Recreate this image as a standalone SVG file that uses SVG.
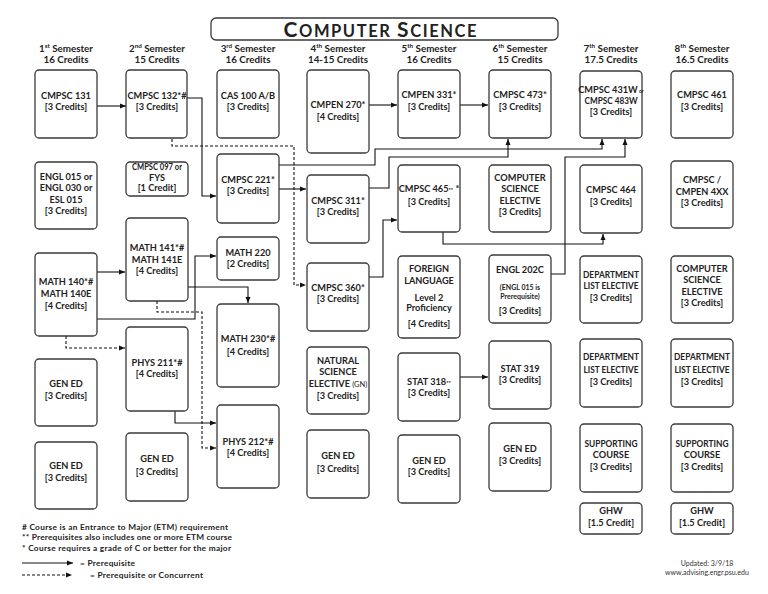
<svg xmlns="http://www.w3.org/2000/svg" width="768" height="594" viewBox="0 0 768 594">
<defs>
<marker id="ah" markerWidth="6" markerHeight="6" refX="6" refY="3" orient="auto" markerUnits="userSpaceOnUse">
<path d="M0,0.5 L6,3 L0,5.5 z" fill="#111"/>
</marker>
<style>
.box{fill:#fff;stroke:#3a3a3a;stroke-width:1.3}
.t{font-family:Lato,"Liberation Sans",sans-serif;font-weight:bold;font-size:9.2px;fill:#222;text-anchor:middle}
.sm{font-size:7px}
.h{font-family:Lato,"Liberation Sans",sans-serif;font-weight:bold;font-size:9.8px;fill:#222;text-anchor:middle}
.lg{font-family:Lato,"Liberation Sans",sans-serif;font-weight:bold;font-size:8.3px;fill:#222}
.up{font-family:Lato,"Liberation Sans",sans-serif;font-size:7px;fill:#333;text-anchor:middle}
.c{fill:none;stroke:#111;stroke-width:1.1;marker-end:url(#ah)}
.d{stroke-dasharray:3 2}
</style>
</defs>
<rect width="768" height="594" fill="#fff"/>

<g id="title">
<rect x="211" y="18" width="347" height="22" rx="5" fill="#fff" stroke="#3a3a3a" stroke-width="1.3"/>
<text x="380" y="37" textLength="193" lengthAdjust="spacing" style="font-family:Lato,'Liberation Sans',sans-serif;font-weight:bold;fill:#222;text-anchor:middle"><tspan font-size="21">C</tspan><tspan font-size="16.5">OMPUTER </tspan><tspan font-size="21">S</tspan><tspan font-size="16.5">CIENCE</tspan></text>
</g>

<g id="headers">
<text class="h" x="66" y="51.5">1<tspan font-size="6.3" dy="-3.5">st</tspan><tspan dy="3.5"> Semester</tspan></text>
<text class="h" x="66" y="62.5">16 Credits</text>
<text class="h" x="157" y="51.5">2<tspan font-size="6.3" dy="-3.5">nd</tspan><tspan dy="3.5"> Semester</tspan></text>
<text class="h" x="157" y="62.5">15 Credits</text>
<text class="h" x="248" y="51.5">3<tspan font-size="6.3" dy="-3.5">rd</tspan><tspan dy="3.5"> Semester</tspan></text>
<text class="h" x="248" y="62.5">16 Credits</text>
<text class="h" x="338" y="51.5">4<tspan font-size="6.3" dy="-3.5">th</tspan><tspan dy="3.5"> Semester</tspan></text>
<text class="h" x="338" y="62.5">14-15 Credits</text>
<text class="h" x="429" y="51.5">5<tspan font-size="6.3" dy="-3.5">th</tspan><tspan dy="3.5"> Semester</tspan></text>
<text class="h" x="429" y="62.5">16 Credits</text>
<text class="h" x="520" y="51.5">6<tspan font-size="6.3" dy="-3.5">th</tspan><tspan dy="3.5"> Semester</tspan></text>
<text class="h" x="520" y="62.5">15 Credits</text>
<text class="h" x="611" y="51.5">7<tspan font-size="6.3" dy="-3.5">th</tspan><tspan dy="3.5"> Semester</tspan></text>
<text class="h" x="611" y="62.5">17.5 Credits</text>
<text class="h" x="702" y="51.5">8<tspan font-size="6.3" dy="-3.5">th</tspan><tspan dy="3.5"> Semester</tspan></text>
<text class="h" x="702" y="62.5">16.5 Credits</text>
</g>

<g id="connectors">
<path class="c" d="M97,106 H126"/>
<path class="c" d="M187,98 H202 V196 H216"/>
<path class="c d" d="M172,139 V146 H294 V285 H306"/>
<path class="c" d="M279,189 H306"/>
<path class="c" d="M279,165 H375 V149 H602 V139"/>
<path class="c" d="M369,188 H389 V157 H508 V139"/>
<path class="c" d="M551,274 H565 V157 H625 V139"/>
<path class="c" d="M443,232 V244 H603 V234"/>
<path class="c" d="M369,277 H383 V220 H397"/>
<path class="c" d="M369,105 H397"/>
<path class="c" d="M460,105 H488"/>
<path class="c" d="M460,377 H488"/>
<path class="c" d="M97,272 H125"/>
<path class="c" d="M97,319 H195 V256 H216"/>
<path class="c" d="M188,287 H248 V303"/>
<path class="c d" d="M157,301 V312 H202 V448 H216"/>
<path class="c d" d="M66,336 V348 H125"/>
<path class="c" d="M175,411 V423 H216"/>
</g>

<g id="n-cmpsc131"><rect class="box" x="35" y="70" width="62" height="68" rx="4"/><text class="t" x="66" y="99">CMPSC 131</text><text class="t" x="66" y="110">[3 Credits]</text></g>
<g id="n-engl015"><rect class="box" x="35" y="162" width="62" height="67" rx="4"/><text class="t" x="66" y="180">ENGL 015 or</text><text class="t" x="66" y="191">ENGL 030 or</text><text class="t" x="66" y="203">ESL 015</text><text class="t" x="66" y="214">[3 Credits]</text></g>
<g id="n-math140"><rect class="box" x="35" y="253" width="62" height="83" rx="4"/><text class="t" x="66" y="285">MATH 140*#</text><text class="t" x="66" y="297">MATH 140E</text><text class="t" x="66" y="309">[4 Credits]</text></g>
<g id="n-gened1a"><rect class="box" x="35" y="359" width="62" height="67" rx="4"/><text class="t" x="66" y="387">GEN ED</text><text class="t" x="66" y="399">[3 Credits]</text></g>
<g id="n-gened1b"><rect class="box" x="35" y="442" width="62" height="67" rx="4"/><text class="t" x="66" y="469">GEN ED</text><text class="t" x="66" y="481">[3 Credits]</text></g>

<g id="n-cmpsc132"><rect class="box" x="126" y="70" width="61" height="68" rx="4"/><text class="t" x="157" y="99">CMPSC 132*#</text><text class="t" x="157" y="110">[3 Credits]</text></g>
<g id="n-cmpsc097"><rect class="box" x="126" y="162" width="62" height="34" rx="4"/><text class="t" x="157" y="170" font-size="8.3" textLength="50" lengthAdjust="spacingAndGlyphs">CMPSC 097 or</text><text class="t" x="157" y="181" font-size="8.3">FYS</text><text class="t" x="157" y="191" font-size="8" font-weight="normal">[1 Credit]</text></g>
<g id="n-math141"><rect class="box" x="126" y="218" width="62" height="83" rx="4"/><text class="t" x="157" y="251">MATH 141*#</text><text class="t" x="157" y="263">MATH 141E</text><text class="t" x="157" y="274">[4 Credits]</text></g>
<g id="n-phys211"><rect class="box" x="126" y="327" width="62" height="84" rx="4"/><text class="t" x="157" y="366">PHYS 211*#</text><text class="t" x="157" y="377">[4 Credits]</text></g>
<g id="n-gened2"><rect class="box" x="126" y="433" width="62" height="68" rx="4"/><text class="t" x="157" y="462">GEN ED</text><text class="t" x="157" y="475">[3 Credits]</text></g>

<g id="n-cas100"><rect class="box" x="217" y="70" width="62" height="68" rx="4"/><text class="t" x="248" y="99">CAS 100 A/B</text><text class="t" x="248" y="110">[3 Credits]</text></g>
<g id="n-cmpsc221"><rect class="box" x="217" y="154" width="62" height="69" rx="4"/><text class="t" x="248" y="183">CMPSC 221*</text><text class="t" x="248" y="194">[3 Credits]</text></g>
<g id="n-math220"><rect class="box" x="217" y="237" width="62" height="43" rx="4"/><text class="t" x="248" y="256">MATH 220</text><text class="t" x="248" y="267">[2 Credits]</text></g>
<g id="n-math230"><rect class="box" x="217" y="304" width="62" height="83" rx="4"/><text class="t" x="248" y="342">MATH 230*#</text><text class="t" x="248" y="355">[4 Credits]</text></g>
<g id="n-phys212"><rect class="box" x="217" y="405" width="62" height="83" rx="4"/><text class="t" x="248" y="445">PHYS 212*#</text><text class="t" x="248" y="456">[4 Credits]</text></g>

<g id="n-cmpen270"><rect class="box" x="307" y="70" width="62" height="83" rx="4"/><text class="t" x="338" y="108">CMPEN 270*</text><text class="t" x="338" y="120">[4 Credits]</text></g>
<g id="n-cmpsc311"><rect class="box" x="307" y="175" width="62" height="68" rx="4"/><text class="t" x="338" y="204">CMPSC 311*</text><text class="t" x="338" y="215">[3 Credits]</text></g>
<g id="n-cmpsc360"><rect class="box" x="307" y="263" width="62" height="68" rx="4"/><text class="t" x="338" y="291">CMPSC 360*</text><text class="t" x="338" y="302">[3 Credits]</text></g>
<g id="n-natsci"><rect class="box" x="307" y="347" width="62" height="67" rx="4"/><text class="t" x="338" y="364">NATURAL</text><text class="t" x="338" y="375">SCIENCE</text><text class="t" x="338" y="387">ELECTIVE <tspan font-size="7.5" font-weight="normal">(GN)</tspan></text><text class="t" x="338" y="399">[3 Credits]</text></g>
<g id="n-gened4"><rect class="box" x="307" y="430" width="62" height="68" rx="4"/><text class="t" x="338" y="459">GEN ED</text><text class="t" x="338" y="472">[3 Credits]</text></g>

<g id="n-cmpen331"><rect class="box" x="398" y="70" width="62" height="68" rx="4"/><text class="t" x="429" y="98">CMPEN 331*</text><text class="t" x="429" y="110">[3 Credits]</text></g>
<g id="n-cmpsc465"><rect class="box" x="398" y="165" width="62" height="67" rx="4"/><text class="t" x="429" y="192">CMPSC 465<tspan font-size="5.5">**</tspan> *</text><text class="t" x="429" y="205">[3 Credits]</text></g>
<g id="n-forlang"><rect class="box" x="398" y="256" width="62" height="82" rx="4"/><text class="t" x="429" y="272">FOREIGN</text><text class="t" x="429" y="284">LANGUAGE</text><text class="t" x="429" y="301" font-size="8.2">Level 2</text><text class="t" x="429" y="311" font-size="8.2">Proficiency</text><text class="t" x="429" y="327" font-size="8.6">[4 Credits]</text></g>
<g id="n-stat318"><rect class="box" x="398" y="353" width="62" height="68" rx="4"/><text class="t" x="429" y="385">STAT 318<tspan font-size="5.5">**</tspan></text><text class="t" x="429" y="396">[3 Credits]</text></g>
<g id="n-gened5"><rect class="box" x="398" y="435" width="62" height="68" rx="4"/><text class="t" x="429" y="464">GEN ED</text><text class="t" x="429" y="475">[3 Credits]</text></g>

<g id="n-cmpsc473"><rect class="box" x="489" y="70" width="62" height="68" rx="4"/><text class="t" x="520" y="98">CMPSC 473*</text><text class="t" x="520" y="110">[3 Credits]</text></g>
<g id="n-cselec6"><rect class="box" x="489" y="165" width="62" height="67" rx="4"/><text class="t" x="520" y="181">COMPUTER</text><text class="t" x="520" y="192">SCIENCE</text><text class="t" x="520" y="204">ELECTIVE</text><text class="t" x="520" y="215">[3 Credits]</text></g>
<g id="n-engl202c"><rect class="box" x="489" y="255" width="62" height="68" rx="4"/><text class="t" x="520" y="273">ENGL 202C</text><text class="t sm" x="520" y="290" font-weight="normal">(ENGL 015 is</text><text class="t sm" x="520" y="299" font-weight="normal">Prerequisite)</text><text class="t" x="520" y="314">[3 Credits]</text></g>
<g id="n-stat319"><rect class="box" x="489" y="341" width="62" height="68" rx="4"/><text class="t" x="520" y="372">STAT 319</text><text class="t" x="520" y="383">[3 Credits]</text></g>
<g id="n-gened6"><rect class="box" x="489" y="423" width="62" height="68" rx="4"/><text class="t" x="520" y="452">GEN ED</text><text class="t" x="520" y="464">[3 Credits]</text></g>

<g id="n-cmpsc431w"><rect class="box" x="580" y="71" width="62" height="67" rx="4"/><text class="t" x="611" y="93" font-size="8.2">CMPSC 431W<tspan font-size="5"> or</tspan></text><text class="t" x="611" y="104" font-size="8.6" textLength="53" lengthAdjust="spacingAndGlyphs">CMPSC 483W</text><text class="t" x="611" y="115" font-size="8.6">[3 Credits]</text></g>
<g id="n-cmpsc464"><rect class="box" x="580" y="165" width="62" height="68" rx="4"/><text class="t" x="611" y="193">CMPSC 464</text><text class="t" x="611" y="205">[3 Credits]</text></g>
<g id="n-dept7a"><rect class="box" x="580" y="256" width="62" height="67" rx="4"/><text class="t" x="611" y="278" textLength="56" lengthAdjust="spacingAndGlyphs">DEPARTMENT</text><text class="t" x="611" y="289" textLength="55" lengthAdjust="spacingAndGlyphs">LIST ELECTIVE</text><text class="t" x="611" y="301">[3 Credits]</text></g>
<g id="n-dept7b"><rect class="box" x="580" y="339" width="62" height="68" rx="4"/><text class="t" x="611" y="360" textLength="56" lengthAdjust="spacingAndGlyphs">DEPARTMENT</text><text class="t" x="611" y="373" textLength="55" lengthAdjust="spacingAndGlyphs">LIST ELECTIVE</text><text class="t" x="611" y="385">[3 Credits]</text></g>
<g id="n-supp7"><rect class="box" x="580" y="424" width="62" height="68" rx="4"/><text class="t" x="611" y="447" textLength="53" lengthAdjust="spacingAndGlyphs">SUPPORTING</text><text class="t" x="611" y="458">COURSE</text><text class="t" x="611" y="470">[3 Credits]</text></g>
<g id="n-ghw7"><rect class="box" x="580" y="503" width="62" height="31" rx="4"/><text class="t" x="611" y="514">GHW</text><text class="t" x="611" y="526">[1.5 Credit]</text></g>

<g id="n-cmpsc461"><rect class="box" x="671" y="71" width="62" height="67" rx="4"/><text class="t" x="702" y="98">CMPSC 461</text><text class="t" x="702" y="110">[3 Credits]</text></g>
<g id="n-cmpsc4xx"><rect class="box" x="671" y="161" width="62" height="67" rx="4"/><text class="t" x="702" y="183">CMPSC /</text><text class="t" x="702" y="195">CMPEN 4XX</text><text class="t" x="702" y="206">[3 Credits]</text></g>
<g id="n-cselec8"><rect class="box" x="671" y="256" width="62" height="67" rx="4"/><text class="t" x="702" y="272">COMPUTER</text><text class="t" x="702" y="283">SCIENCE</text><text class="t" x="702" y="295">ELECTIVE</text><text class="t" x="702" y="306">[3 Credits]</text></g>
<g id="n-dept8"><rect class="box" x="671" y="339" width="62" height="68" rx="4"/><text class="t" x="702" y="360" textLength="56" lengthAdjust="spacingAndGlyphs">DEPARTMENT</text><text class="t" x="702" y="373" textLength="55" lengthAdjust="spacingAndGlyphs">LIST ELECTIVE</text><text class="t" x="702" y="385">[3 Credits]</text></g>
<g id="n-supp8"><rect class="box" x="671" y="424" width="62" height="68" rx="4"/><text class="t" x="702" y="447" textLength="53" lengthAdjust="spacingAndGlyphs">SUPPORTING</text><text class="t" x="702" y="458">COURSE</text><text class="t" x="702" y="470">[3 Credits]</text></g>
<g id="n-ghw8"><rect class="box" x="671" y="503" width="62" height="31" rx="4"/><text class="t" x="702" y="514">GHW</text><text class="t" x="702" y="526">[1.5 Credit]</text></g>

<g id="legend">
<text class="lg" x="22" y="530" textLength="206" lengthAdjust="spacing"># Course is an Entrance to Major (ETM) requirement</text>
<text class="lg" x="22" y="540" textLength="210" lengthAdjust="spacing">** Prerequisites also includes one or more ETM course</text>
<text class="lg" x="22" y="551" textLength="209" lengthAdjust="spacing">* Course requires a grade of C or better for the major</text>
<path class="c" d="M22,563 H73"/>
<text class="lg" x="80" y="566" textLength="55" lengthAdjust="spacing">= Prerequisite</text>
<path class="c d" d="M22,575 H72"/>
<text class="lg" x="90" y="578" textLength="113" lengthAdjust="spacing">= Prerequisite or Concurrent</text>
</g>

<g id="updated">
<text class="up" x="707" y="566">Updated: 3/9/18</text>
<text class="up" x="707" y="575">www.advising.engr.psu.edu</text>
</g>
</svg>
